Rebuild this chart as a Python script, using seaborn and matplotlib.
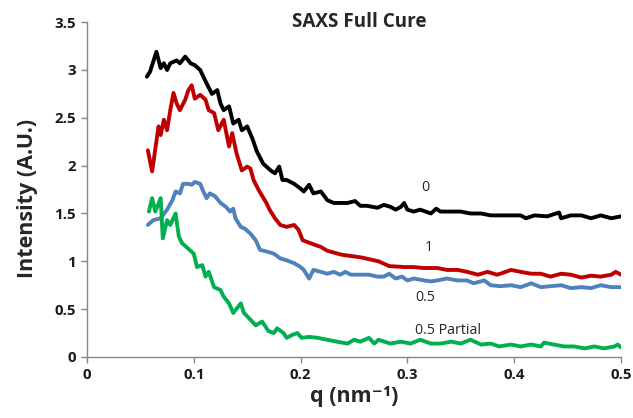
import numpy as np
import pandas as pd
import matplotlib
matplotlib.use("Agg")
import matplotlib.pyplot as plt
import seaborn as sns

# SAXS intensity profiles, q in nm^-1, intensity in arbitrary units
q_0 = [0.056, 0.059, 0.065, 0.069, 0.072, 0.075, 0.078, 0.084, 0.087, 0.092,
       0.097, 0.101, 0.106, 0.109, 0.112, 0.117, 0.122, 0.125, 0.128, 0.133,
       0.137, 0.142, 0.145, 0.150, 0.155, 0.159, 0.165, 0.172, 0.176, 0.180,
       0.183, 0.187, 0.194, 0.200, 0.203, 0.208, 0.212, 0.219, 0.225, 0.231,
       0.237, 0.244, 0.251, 0.256, 0.262, 0.272, 0.278, 0.284, 0.289, 0.294,
       0.297, 0.300, 0.306, 0.312, 0.317, 0.322, 0.327, 0.331, 0.341, 0.350,
       0.359, 0.369, 0.378, 0.387, 0.397, 0.406, 0.411, 0.419, 0.431, 0.442,
       0.444, 0.453, 0.463, 0.472, 0.481, 0.491, 0.500]
i_0 = [2.93, 2.98, 3.19, 3.02, 3.07, 3.00, 3.07, 3.10, 3.07, 3.14,
       3.07, 3.05, 3.00, 2.93, 2.86, 2.75, 2.79, 2.65, 2.58, 2.62,
       2.44, 2.48, 2.37, 2.41, 2.28, 2.15, 2.02, 1.95, 1.92, 1.99,
       1.85, 1.85, 1.81, 1.76, 1.73, 1.80, 1.71, 1.73, 1.64, 1.61,
       1.61, 1.61, 1.63, 1.58, 1.58, 1.56, 1.59, 1.57, 1.54, 1.57,
       1.61, 1.54, 1.52, 1.54, 1.52, 1.50, 1.55, 1.52, 1.52, 1.52,
       1.50, 1.50, 1.48, 1.48, 1.48, 1.48, 1.45, 1.48, 1.47, 1.51,
       1.45, 1.48, 1.48, 1.45, 1.48, 1.45, 1.47]

q_1 = [0.057, 0.061, 0.067, 0.069, 0.072, 0.075, 0.078, 0.081, 0.084, 0.087,
       0.092, 0.095, 0.098, 0.101, 0.106, 0.111, 0.114, 0.119, 0.123, 0.128,
       0.133, 0.136, 0.140, 0.145, 0.150, 0.153, 0.156, 0.161, 0.168, 0.171,
       0.176, 0.181, 0.187, 0.194, 0.198, 0.202, 0.209, 0.219, 0.225, 0.238,
       0.257, 0.273, 0.283, 0.297, 0.306, 0.315, 0.328, 0.337, 0.347, 0.356,
       0.366, 0.375, 0.384, 0.387, 0.397, 0.406, 0.416, 0.425, 0.434, 0.444,
       0.453, 0.463, 0.472, 0.481, 0.491, 0.495, 0.500]
i_1 = [2.16, 1.94, 2.41, 2.32, 2.48, 2.37, 2.58, 2.76, 2.65, 2.58,
       2.69, 2.79, 2.84, 2.70, 2.74, 2.69, 2.58, 2.55, 2.37, 2.48,
       2.20, 2.34, 2.13, 1.95, 1.99, 1.97, 1.85, 1.74, 1.61, 1.54,
       1.45, 1.38, 1.36, 1.38, 1.33, 1.22, 1.19, 1.15, 1.11, 1.07,
       1.04, 1.00, 0.95, 0.94, 0.94, 0.93, 0.93, 0.91, 0.91, 0.89,
       0.86, 0.89, 0.86, 0.87, 0.91, 0.89, 0.87, 0.87, 0.84, 0.87,
       0.86, 0.83, 0.85, 0.84, 0.86, 0.89, 0.86]

q_05 = [0.057, 0.062, 0.069, 0.075, 0.080, 0.083, 0.087, 0.090, 0.095, 0.098,
        0.101, 0.106, 0.109, 0.112, 0.115, 0.120, 0.125, 0.130, 0.134, 0.137,
        0.139, 0.144, 0.148, 0.153, 0.158, 0.162, 0.169, 0.175, 0.181, 0.187,
        0.194, 0.200, 0.203, 0.208, 0.212, 0.219, 0.225, 0.231, 0.237, 0.242,
        0.247, 0.256, 0.264, 0.272, 0.278, 0.283, 0.289, 0.295, 0.300, 0.306,
        0.316, 0.322, 0.328, 0.337, 0.347, 0.356, 0.362, 0.372, 0.378, 0.387,
        0.397, 0.406, 0.416, 0.425, 0.434, 0.444, 0.453, 0.463, 0.472, 0.481,
        0.491, 0.500]
i_05 = [1.38, 1.43, 1.45, 1.54, 1.64, 1.73, 1.71, 1.81, 1.81, 1.80,
        1.83, 1.81, 1.73, 1.66, 1.71, 1.68, 1.61, 1.57, 1.52, 1.55,
        1.45, 1.36, 1.34, 1.29, 1.22, 1.12, 1.10, 1.08, 1.03, 1.01,
        0.98, 0.94, 0.91, 0.82, 0.91, 0.89, 0.87, 0.89, 0.86, 0.89,
        0.86, 0.86, 0.86, 0.84, 0.84, 0.87, 0.82, 0.84, 0.80, 0.82,
        0.80, 0.79, 0.80, 0.82, 0.80, 0.80, 0.77, 0.80, 0.75, 0.74,
        0.75, 0.73, 0.77, 0.73, 0.74, 0.75, 0.72, 0.73, 0.72, 0.75,
        0.73, 0.73]

q_05p = [0.058, 0.061, 0.064, 0.069, 0.071, 0.075, 0.078, 0.083, 0.086, 0.089,
         0.094, 0.100, 0.103, 0.108, 0.111, 0.114, 0.119, 0.125, 0.128, 0.133,
         0.137, 0.144, 0.147, 0.153, 0.158, 0.164, 0.170, 0.175, 0.178, 0.184,
         0.187, 0.192, 0.197, 0.201, 0.208, 0.216, 0.225, 0.234, 0.244, 0.250,
         0.256, 0.264, 0.269, 0.273, 0.284, 0.294, 0.303, 0.312, 0.322, 0.331,
         0.341, 0.350, 0.359, 0.369, 0.378, 0.386, 0.397, 0.406, 0.416, 0.425,
         0.428, 0.437, 0.447, 0.456, 0.466, 0.475, 0.484, 0.494, 0.497, 0.500]
i_05p = [1.52, 1.66, 1.52, 1.66, 1.24, 1.43, 1.38, 1.50, 1.26, 1.19,
         1.14, 1.08, 0.94, 0.96, 0.84, 0.89, 0.73, 0.70, 0.63, 0.56,
         0.46, 0.56, 0.46, 0.39, 0.33, 0.37, 0.27, 0.25, 0.30, 0.25,
         0.20, 0.23, 0.25, 0.20, 0.21, 0.20, 0.18, 0.16, 0.14, 0.18,
         0.16, 0.20, 0.14, 0.18, 0.14, 0.16, 0.14, 0.18, 0.14, 0.14,
         0.16, 0.14, 0.18, 0.13, 0.14, 0.11, 0.13, 0.11, 0.13, 0.11,
         0.15, 0.13, 0.11, 0.11, 0.09, 0.11, 0.09, 0.11, 0.13, 0.10]

series_names = ["0", "1", "0.5", "0.5 Partial"]
series_colors = ["#000000", "#C00000", "#4F81BD", "#00B050"]
label_pos = [(0.317, 1.77), (0.320, 1.14), (0.317, 0.62), (0.338, 0.28)]

frames = []
for name, q, inten in zip(series_names, [q_0, q_1, q_05, q_05p],
                          [i_0, i_1, i_05, i_05p]):
    frames.append(pd.DataFrame({"q": q, "I": inten, "sample": name}))
df = pd.concat(frames, ignore_index=True)

sns.set_theme(style="ticks")
plt.rcParams["font.family"] = ["Open Sans", "DejaVu Sans"]

fig = plt.figure(figsize=(6.33, 4.18), dpi=100)
ax = fig.add_axes([0.1374, 0.146, 0.8436, 0.801])

sns.lineplot(data=df, x="q", y="I", hue="sample", hue_order=series_names,
             palette=series_colors, estimator=None, sort=False,
             linewidth=2.8, legend=False, ax=ax)

for name, (x, y) in zip(series_names, label_pos):
    ax.text(x, y, name, ha="center", va="center", fontsize=10.3,
            color="#262626")

ax.set_xlim(0, 0.5)
ax.set_ylim(0, 3.5)
ax.set_xticks([0, 0.1, 0.2, 0.3, 0.4, 0.5])
ax.set_xticklabels(["0", "0.1", "0.2", "0.3", "0.4", "0.5"])
ax.set_yticks([0, 0.5, 1, 1.5, 2, 2.5, 3, 3.5])
ax.set_yticklabels(["0", "0.5", "1", "1.5", "2", "2.5", "3", "3.5"])
ax.tick_params(axis="both", direction="out", length=4, width=1,
               color="#868686", labelcolor="#1a1a1a", labelsize=10.8, pad=4)
for lab in ax.get_xticklabels() + ax.get_yticklabels():
    lab.set_fontweight("bold")
for side in ["top", "right"]:
    ax.spines[side].set_visible(False)
for side in ["left", "bottom"]:
    ax.spines[side].set_color("#868686")
    ax.spines[side].set_linewidth(1)

ax.set_xlabel("q (nm\u207b\u00b9)", fontsize=15.5, fontweight="bold", labelpad=3)
ax.set_ylabel("Intensity (A.U.)", fontsize=15.5, fontweight="bold")
ax.yaxis.set_label_coords(-0.092, 0.473)
ax.text(0.255, 3.5, "SAXS Full Cure", ha="center", va="center",
        fontsize=13.6, fontweight="bold")

fig.savefig("out.png", dpi=100)
